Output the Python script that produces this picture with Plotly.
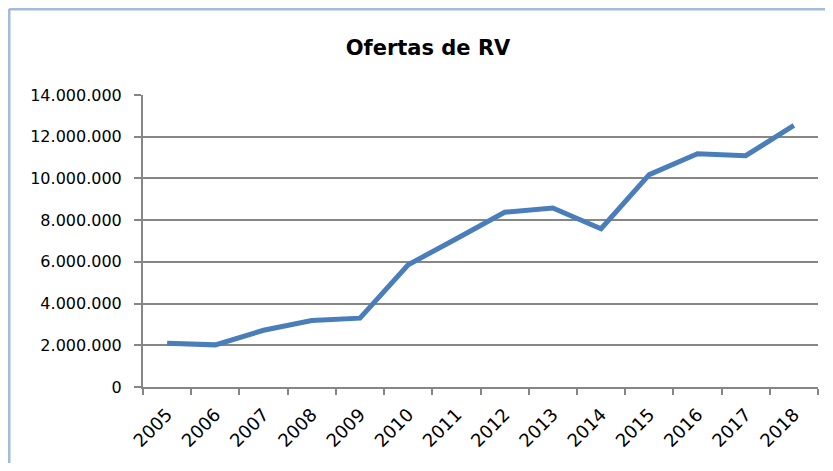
import plotly.graph_objects as go

years = ["2005", "2006", "2007", "2008", "2009", "2010", "2011",
         "2012", "2013", "2014", "2015", "2016", "2017", "2018"]
ofertas = [2100000, 2020000, 2720000, 3190000, 3300000, 5860000, 7110000,
           8380000, 8580000, 7590000, 10180000, 11180000, 11090000, 12540000]
y_ticks = [0, 2000000, 4000000, 6000000, 8000000, 10000000, 12000000, 14000000]
y_tick_labels = ["0", "2.000.000", "4.000.000", "6.000.000", "8.000.000",
                 "10.000.000", "12.000.000", "14.000.000"]

# the page body adds an 8px offset; size and margins compensate so the
# plot area lands where the reference has it without overflowing the window
W, H = 817, 455
L, R, T, B = 135, 7, 87, 76
pw = W - L - R
ph = H - T - B

fig = go.Figure()
fig.add_trace(go.Scatter(
    x=years, y=ofertas, mode="lines",
    line=dict(color="#4A7EBB", width=5),
    showlegend=False, hoverinfo="skip",
))

font = "'DejaVu Sans', sans-serif"
bx = (1 - L) / pw          # left border position (paper units)
by = (T + ph - 1) / ph     # top border position (paper units)
border = dict(color="#A3BBDC", width=3)
fig.update_layout(
    width=W, height=H,
    margin=dict(l=L, r=R, t=T, b=B, pad=0, autoexpand=False),
    paper_bgcolor="white", plot_bgcolor="white",
    title=dict(text="<b>Ofertas de RV</b>", x=420 / W, xanchor="center",
               y=1 - 40 / H, yanchor="middle",
               font=dict(family=font, size=21, color="black")),
    font=dict(family=font, size=16, color="black"),
    xaxis=dict(
        type="category", range=[-0.5, 13.5], automargin=False,
        tickson="boundaries", ticks="outside", ticklen=6, tickwidth=2,
        tickcolor="#868686", showline=True, linecolor="#868686", linewidth=2,
        showgrid=False, tickangle=-45, tickfont=dict(size=18),
        ticklabelstandoff=8, fixedrange=True,
    ),
    yaxis=dict(
        range=[0, 14000000], tickvals=y_ticks, ticktext=y_tick_labels,
        automargin=False,
        ticks="outside", ticklen=7, tickwidth=2, tickcolor="#868686",
        showline=True, linecolor="#868686", linewidth=2,
        showgrid=True, gridcolor="#868686", gridwidth=2,
        zeroline=False, tickfont=dict(size=16), ticklabelstandoff=9,
        fixedrange=True,
    ),
    shapes=[
        dict(type="line", xref="paper", yref="paper",
             x0=bx, x1=bx, y0=-B / ph - 0.05, y1=by, line=border, layer="below"),
        dict(type="line", xref="paper", yref="paper",
             x0=bx, x1=1 + R / pw + 0.05, y0=by, y1=by, line=border, layer="below"),
    ],
)

fig.write_html("out.html")
